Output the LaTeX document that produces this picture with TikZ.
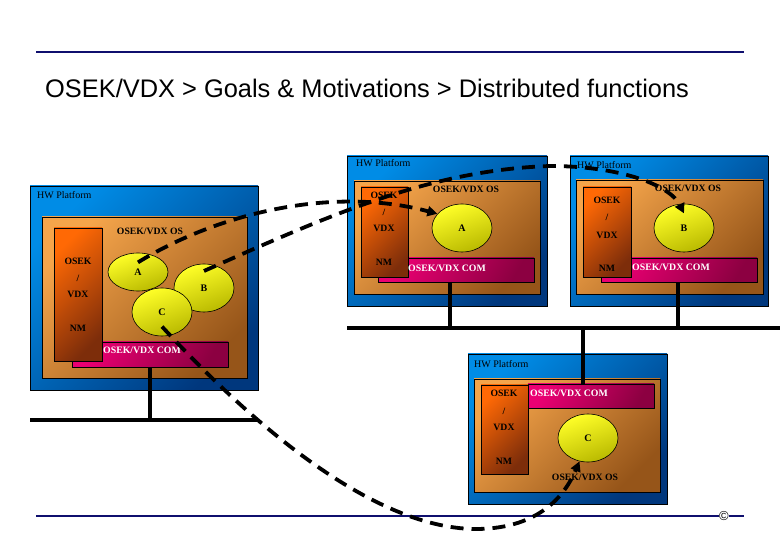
\documentclass[tikz,border=0pt]{standalone}
\usepackage{fontspec}
\setmainfont{Liberation Serif}
\newfontfamily\titlesans{Liberation Sans}
\usetikzlibrary{shapes.geometric,arrows.meta,fit,calc}
\definecolor{hwA}{RGB}{0,140,230}
\definecolor{hwB}{RGB}{0,55,125}
\definecolor{osA}{RGB}{245,165,75}
\definecolor{osB}{RGB}{150,85,25}
\definecolor{vbA}{RGB}{255,105,5}
\definecolor{vbB}{RGB}{125,45,10}
\definecolor{comA}{RGB}{235,0,115}
\definecolor{comB}{RGB}{140,0,65}
\definecolor{ellA}{RGB}{255,255,40}
\definecolor{ellB}{RGB}{185,185,0}
\definecolor{rulec}{RGB}{15,15,110}
\begin{document}
\begin{tikzpicture}[x=1pt,y=-1pt,
  box/.style={draw=black, line width=0.6pt, inner sep=0pt, outer sep=0pt},
  hwbox/.style={box, top color=hwA, bottom color=hwB, shading angle=45},
  osbox/.style={box, top color=osA, bottom color=osB, shading angle=45},
  vbox/.style={box, top color=vbA, bottom color=vbB, shading angle=45},
  combox/.style={box, top color=comA, bottom color=comB, shading angle=60},
  ell/.style={ellipse, draw=black, line width=0.6pt, top color=ellA, bottom color=ellB, shading angle=20,
    minimum width=60pt, minimum height=48pt, inner sep=0pt, font=\fontsize{10}{11}\selectfont\bfseries},
  lbl/.style={inner sep=0pt, font=\fontsize{9.7}{10.5}\selectfont\bfseries},
  hwlbl/.style={inner sep=0pt, anchor=west, font=\fontsize{10}{11}\selectfont},
  comlbl/.style={inner sep=0pt, anchor=west, text=white, font=\fontsize{9.8}{10.5}\selectfont\bfseries},
  bus/.style={line width=4pt, black},
  rulel/.style={line width=2pt, rulec},
  link/.style={line width=3.8pt, dash pattern=on 13pt off 8pt, -{Triangle[length=10pt,width=10pt]}}
]
\useasboundingbox (0,0) rectangle (780,540);

% header and footer rules
\coordinate (t1) at (36,52); \coordinate (t2) at (744,52);
\draw[rulel] (t1) -- (t2);
\node[anchor=west, inner sep=0pt, font=\titlesans\fontsize{25.4}{28}\selectfont] (title) at (45,88)
  {OSEK/VDX > Goals \& Motivations > Distributed functions};
\coordinate (f1) at (36,516); \coordinate (f2) at (744,516);
\draw[rulel] (f1) -- (f2);
\node[fill=white, inner sep=0.3pt, font=\titlesans\fontsize{13}{14}\selectfont] (copy) at (724,516) {\textcopyright};

% ---------- node 1 (left) ----------
\node[hwbox, fit={(30,186) (258,390)}] (hw1) {};
\node[osbox, fit={(42,217) (247,378)}] (os1) {};
\node[combox, fit={(72,342) (228,367)}] (com1) {};
\node[vbox, fit={(54,228) (102,361)}] (vb1) {};
\node[hwlbl] (hw1l) at (37,195) {HW Platform};
\node[lbl] (os1l) at (150,231) {OSEK/VDX OS};
\node[lbl] (o1) at (78,261) {OSEK};
\node[lbl] (s1) at (78,278) {/};
\node[lbl] (v1) at (78,294) {VDX};
\node[lbl] (n1) at (78,328) {NM};
\node[comlbl] (com1l) at (103,350) {OSEK/VDX COM};
\node[ell, minimum height=38pt] (a1) at (138,272) {A};
\node[ell] (b1) at (204,288) {B};
\node[ell] (c1) at (162,312) {C};
\coordinate (bus1L) at (30,420); \coordinate (bus1R) at (258,420);
\draw[bus] (bus1L) -- (bus1R);
\draw[bus] (com1.south) -- (com1.south |- bus1L);

% ---------- node 2 (top middle) ----------
\node[hwbox, fit={(347,156) (547,306)}] (hw2) {};
\node[osbox, fit={(354,181) (540,294)}] (os2) {};
\node[combox, fit={(378,258) (534,282)}] (com2) {};
\node[vbox, fit={(361,187) (408,277)}] (vb2) {};
\node[hwlbl] (hw2l) at (356,163) {HW Platform};
\node[lbl] (os2l) at (466,189) {OSEK/VDX OS};
\node[lbl] (o2) at (384,195) {OSEK};
\node[lbl] (s2) at (384,212) {/};
\node[lbl] (v2) at (384,228) {VDX};
\node[lbl] (n2) at (384,262) {NM};
\node[comlbl] (com2l) at (408,268) {OSEK/VDX COM};
\node[ell] (a2) at (462,228) {A};

% ---------- node 3 (top right) ----------
\node[hwbox, fit={(570,156) (768,306)}] (hw3) {};
\node[osbox, fit={(576,180) (763,294)}] (os3) {};
\node[combox, fit={(601,258) (757,282)}] (com3) {};
\node[vbox, fit={(583,187) (631,277)}] (vb3) {};
\node[hwlbl] (hw3l) at (577,165) {HW Platform};
\node[lbl] (os3l) at (688,188) {OSEK/VDX OS};
\node[lbl] (o3) at (607,200) {OSEK};
\node[lbl] (s3) at (607,217) {/};
\node[lbl] (v3) at (607,235) {VDX};
\node[lbl] (n3) at (607,268) {NM};
\node[comlbl] (com3l) at (632,267) {OSEK/VDX COM};
\node[ell] (b2) at (684,228) {B};

% top bus
\coordinate (bus2L) at (347,328); \coordinate (bus2R) at (780,328);
\draw[bus] (bus2L) -- (bus2R);
\coordinate (x2) at (450,0);
\draw[bus] (x2 |- com2.south) -- (x2 |- bus2L);
\coordinate (x3) at (678,0);
\draw[bus] (x3 |- com3.south) -- (x3 |- bus2L);

% ---------- node 4 (bottom) ----------
\node[hwbox, fit={(468,354) (667,504)}] (hw4) {};
\node[osbox, fit={(474,379) (660,492)}] (os4) {};
\node[combox, fit={(528,384) (654,408)}] (com4) {};
\node[vbox, fit={(481,385) (528,474)}] (vb4) {};
\node[hwlbl] (hw4l) at (474,364) {HW Platform};
\node[lbl] (os4l) at (585,477) {OSEK/VDX OS};
\node[lbl] (o4) at (504,393) {OSEK};
\node[lbl] (s4) at (504,411) {/};
\node[lbl] (v4) at (504,427) {VDX};
\node[lbl] (n4) at (504,461) {NM};
\node[comlbl] (com4l) at (530,393) {OSEK/VDX COM};
\node[ell] (c2) at (588,438) {C};
\coordinate (x4) at (583,0);
\draw[bus] (x4 |- bus2L) -- (x4 |- com4.north);

% ---------- dashed links ----------
\draw[link] ($(a1.center)!0.5!(a1.north)$) .. controls (215,215) and (330,185) .. (a2.150);
\draw[link] ($(b1.center)!0.7!(b1.north)$) .. controls (330,215) and (430,170) .. (550,166)
  .. controls (620,166) and (670,185) .. ($(b2.center)!0.6!(b2.north)$);
\draw[link] ($(c1.center)!0.6!(c1.south)$) .. controls (262,435) and (380,530) .. (478,529)
  .. controls (540,528) and (565,495) .. (c2.250);
\end{tikzpicture}
\end{document}
